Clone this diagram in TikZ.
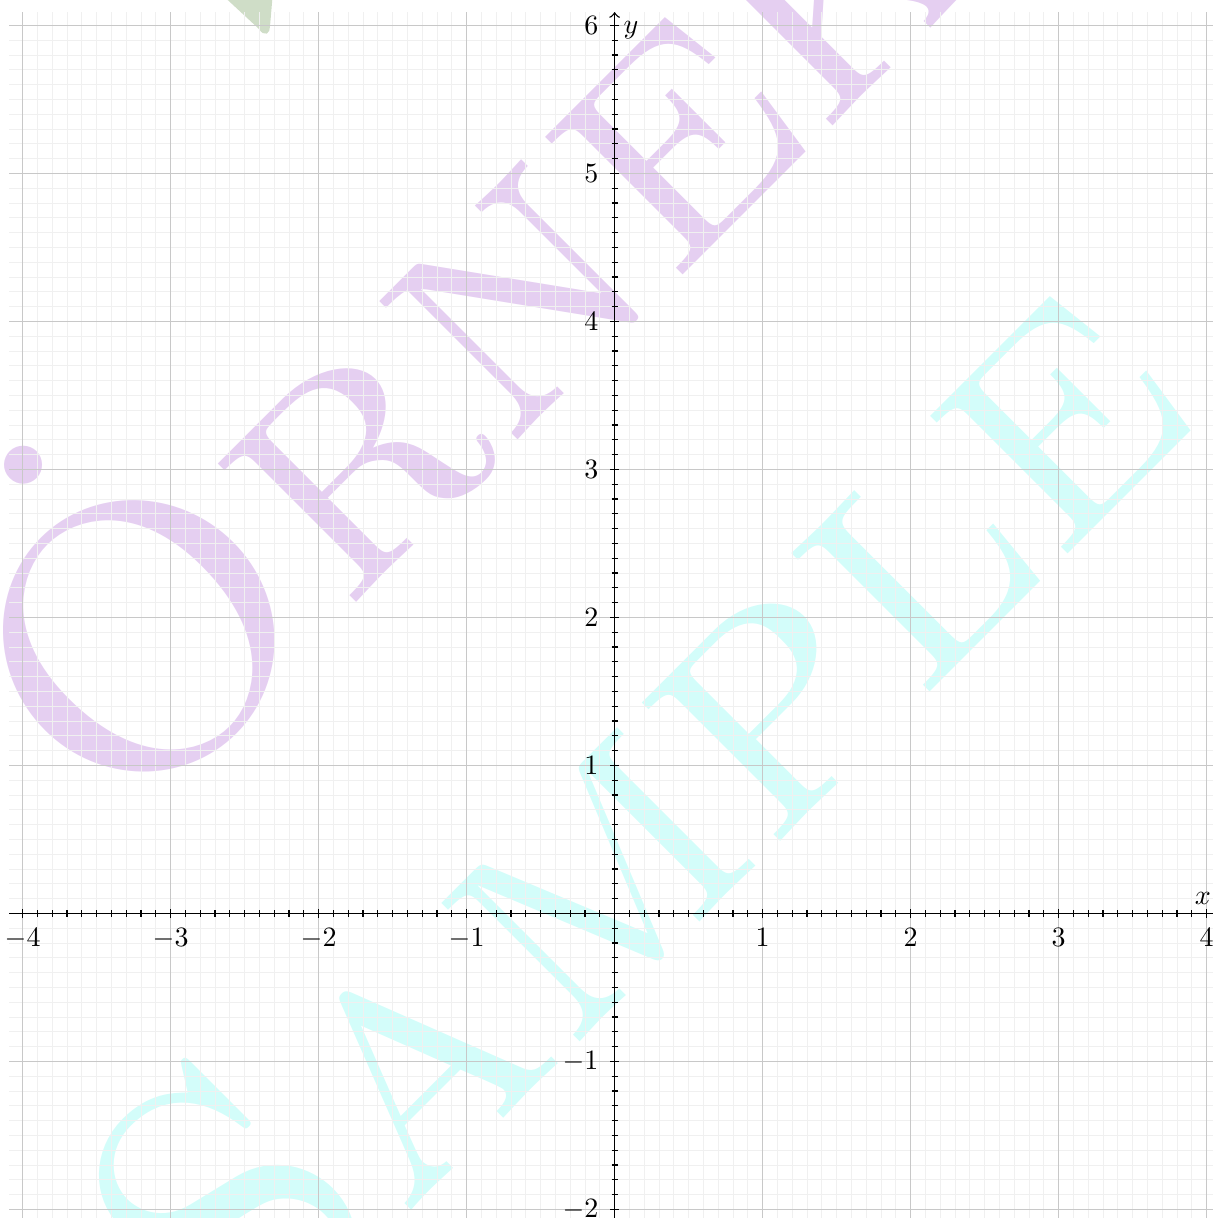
\documentclass[tikz,border=0pt]{standalone}
\definecolor{wmpurple}{RGB}{229,207,241}
\definecolor{wmcyan}{RGB}{211,253,250}
\definecolor{wmgreen}{RGB}{207,221,199}
\definecolor{minorgray}{RGB}{240,240,240}
\definecolor{majorgray}{RGB}{200,200,200}
\DeclareFontFamily{OT1}{wmcsc}{}
\DeclareFontShape{OT1}{wmcsc}{m}{n}{<-> cmcsc10}{}
\begin{document}
\begin{tikzpicture}[x=1.858cm,y=1.858cm,
  minorgrid/.style={draw=minorgray, line width=0.35pt},
  majorgrid/.style={draw=majorgray, line width=0.5pt},
  axisline/.style={draw=black, line width=0.5pt, ->},
  tickmark/.style={draw=black, line width=0.4pt},
  ticklbl/.style={inner sep=0pt},
  wm/.style={rotate=45, inner sep=0pt, anchor=base west,
    font=\fontencoding{OT1}\fontfamily{wmcsc}\fontseries{m}\fontshape{n}\fontsize{136pt}{137pt}\selectfont},
]
\useasboundingbox (-4.153,-2.058) rectangle (4.043,6.172);
\clip (-4.153,-2.058) rectangle (4.043,6.172);
% watermark texts
\node[wm, text=wmpurple] (orn) at (-3.363,0.485) {\"Ornek};
\node[wm, text=wmcyan] (smp) at (-2.547,-3.182) {Sample};
\fill[wmgreen] (-2.680,6.233) -- (-2.403,5.976)
  .. controls (-2.385,5.950) and (-2.370,5.938) .. (-2.350,5.945)
  .. controls (-2.335,5.955) and (-2.329,5.970) .. (-2.329,5.990)
  -- (-2.308,6.233) -- cycle;
% grid
\draw[minorgrid] (-4.09,-2.09) grid[step=0.1] (4.09,6.09);
\draw[majorgrid] (-4.09,-2.09) grid[step=1] (4.09,6.09);
% axes
\coordinate (xs) at (-4.09,0);
\coordinate (xe) at (4.09,0);
\coordinate (ys) at (0,-2.09);
\coordinate (ye) at (0,6.09);
\draw[axisline] (xs) -- (xe);
\draw[axisline] (ys) -- (ye);
% ticks
\foreach \k in {-40,...,40}{
  \draw[tickmark] (\k*0.1,0) ++(0,-1.1pt) -- ++(0,2.2pt);
}
\foreach \k in {-20,...,60}{
  \draw[tickmark] (0,\k*0.1) ++(-1.1pt,0) -- ++(2.2pt,0);
}
\foreach \k in {-4,-3,-2,-1,1,2,3,4}{
  \draw[tickmark] (\k,0) ++(0,-1.5pt) -- ++(0,3pt);
  \node[ticklbl, anchor=north] (xl\k) at ([yshift=-5.3pt]\k,0) {$\k$};
}
\foreach \k in {-2,-1,1,2,3,4,5,6}{
  \draw[tickmark] (0,\k) ++(-1.5pt,0) -- ++(3pt,0);
  \node[ticklbl, anchor=east] (yl\k) at ([xshift=-5.6pt]0,\k) {$\k$};
}
\node[ticklbl] (xlab) at (3.975,0.099) {$x$};
\node[ticklbl] (ylab) at (0.111,5.970) {$y$};
\end{tikzpicture}
\end{document}
